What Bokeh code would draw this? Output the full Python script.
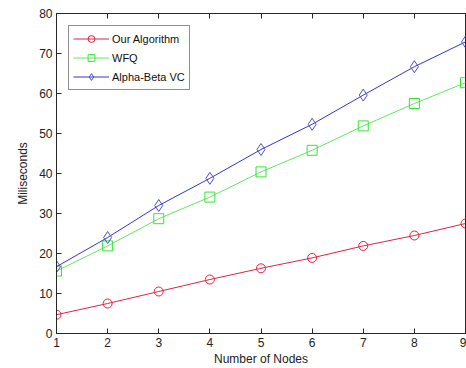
from bokeh.plotting import figure
from bokeh.models import LinearAxis, Legend, LegendItem, FixedTicker
from bokeh.embed import file_html
from bokeh.resources import INLINE

nodes = [1, 2, 3, 4, 5, 6, 7, 8, 9]
our_algorithm = [4.7, 7.5, 10.5, 13.5, 16.3, 18.9, 21.9, 24.5, 27.5]
wfq = [15.6, 21.9, 28.7, 34.1, 40.4, 45.8, 51.9, 57.5, 62.7]
alpha_beta_vc = [16.7, 24.0, 32.0, 38.8, 46.0, 52.3, 59.6, 66.7, 72.9]
x_ticks = [1, 2, 3, 4, 5, 6, 7, 8, 9]
y_ticks = [0, 10, 20, 30, 40, 50, 60, 70, 80]

FONT = "Liberation Sans"

p = figure(width=466, height=368, output_backend="svg", toolbar_location=None,
           x_range=(1, 9), y_range=(0, 80),
           min_border_left=56, min_border_right=1, min_border_top=13, min_border_bottom=33)
p.background_fill_color = "white"
p.border_fill_color = "white"
p.outline_line_color = "#262626"
p.outline_line_width = 1
p.grid.visible = False

for ax in [p.xaxis[0], p.yaxis[0]]:
    ax.major_tick_in = 5
    ax.major_tick_out = 0
    ax.minor_tick_line_color = None
    ax.axis_line_color = "#262626"
    ax.major_tick_line_color = "#262626"
    ax.major_label_text_font = FONT
    ax.major_label_text_font_size = "12px"
    ax.major_label_text_color = "#222222"
    ax.axis_label_text_font = FONT
    ax.axis_label_text_font_size = "12px"
    ax.axis_label_text_font_style = "normal"
    ax.axis_label_text_color = "#222222"

p.xaxis[0].ticker = FixedTicker(ticks=x_ticks)
p.yaxis[0].ticker = FixedTicker(ticks=y_ticks)
p.xaxis[0].axis_label = "Number of Nodes"
p.yaxis[0].axis_label = "Miliseconds"
p.xaxis[0].major_label_standoff = 4
p.yaxis[0].major_label_standoff = 4
p.xaxis[0].axis_label_standoff = 2
p.yaxis[0].axis_label_standoff = 6

top = LinearAxis(ticker=FixedTicker(ticks=x_ticks), major_tick_in=5, major_tick_out=0,
                 minor_tick_line_color=None,
                 major_label_overrides={t: "" for t in x_ticks},
                 axis_line_color="#262626", major_tick_line_color="#262626",
                 major_label_standoff=0)
p.add_layout(top, "above")

r1 = p.line(nodes, our_algorithm, line_color="#d8254a", line_width=1)
m1 = p.scatter(nodes, our_algorithm, marker="circle", size=9, fill_color=None,
               line_color="#e8203c", line_width=1)
r2 = p.line(nodes, wfq, line_color="#5ee85e", line_width=1)
m2 = p.scatter(nodes, wfq, marker="square", size=10, fill_color=None,
               line_color="#33e633", line_width=1)
r3 = p.line(nodes, alpha_beta_vc, line_color="#3535d0", line_width=1)
m3 = p.scatter(nodes, alpha_beta_vc, marker="diamond", size=12, fill_color=None,
               line_color="#5050c8", line_width=1)

legend = Legend(items=[
    LegendItem(label="Our Algorithm", renderers=[r1, m1]),
    LegendItem(label="WFQ", renderers=[r2, m2]),
    LegendItem(label="Alpha-Beta VC", renderers=[r3, m3]),
], location="top_left")
legend.label_text_font = FONT
legend.label_text_font_size = "11px"
legend.label_text_color = "#111111"
legend.border_line_color = "#222222"
legend.border_line_width = 1
legend.glyph_width = 36
legend.glyph_height = 17
legend.label_height = 17
legend.spacing = 2
legend.padding = 4
legend.margin = 12
legend.label_standoff = 3
p.add_layout(legend)

open("out.html", "w").write(file_html(p, INLINE))
